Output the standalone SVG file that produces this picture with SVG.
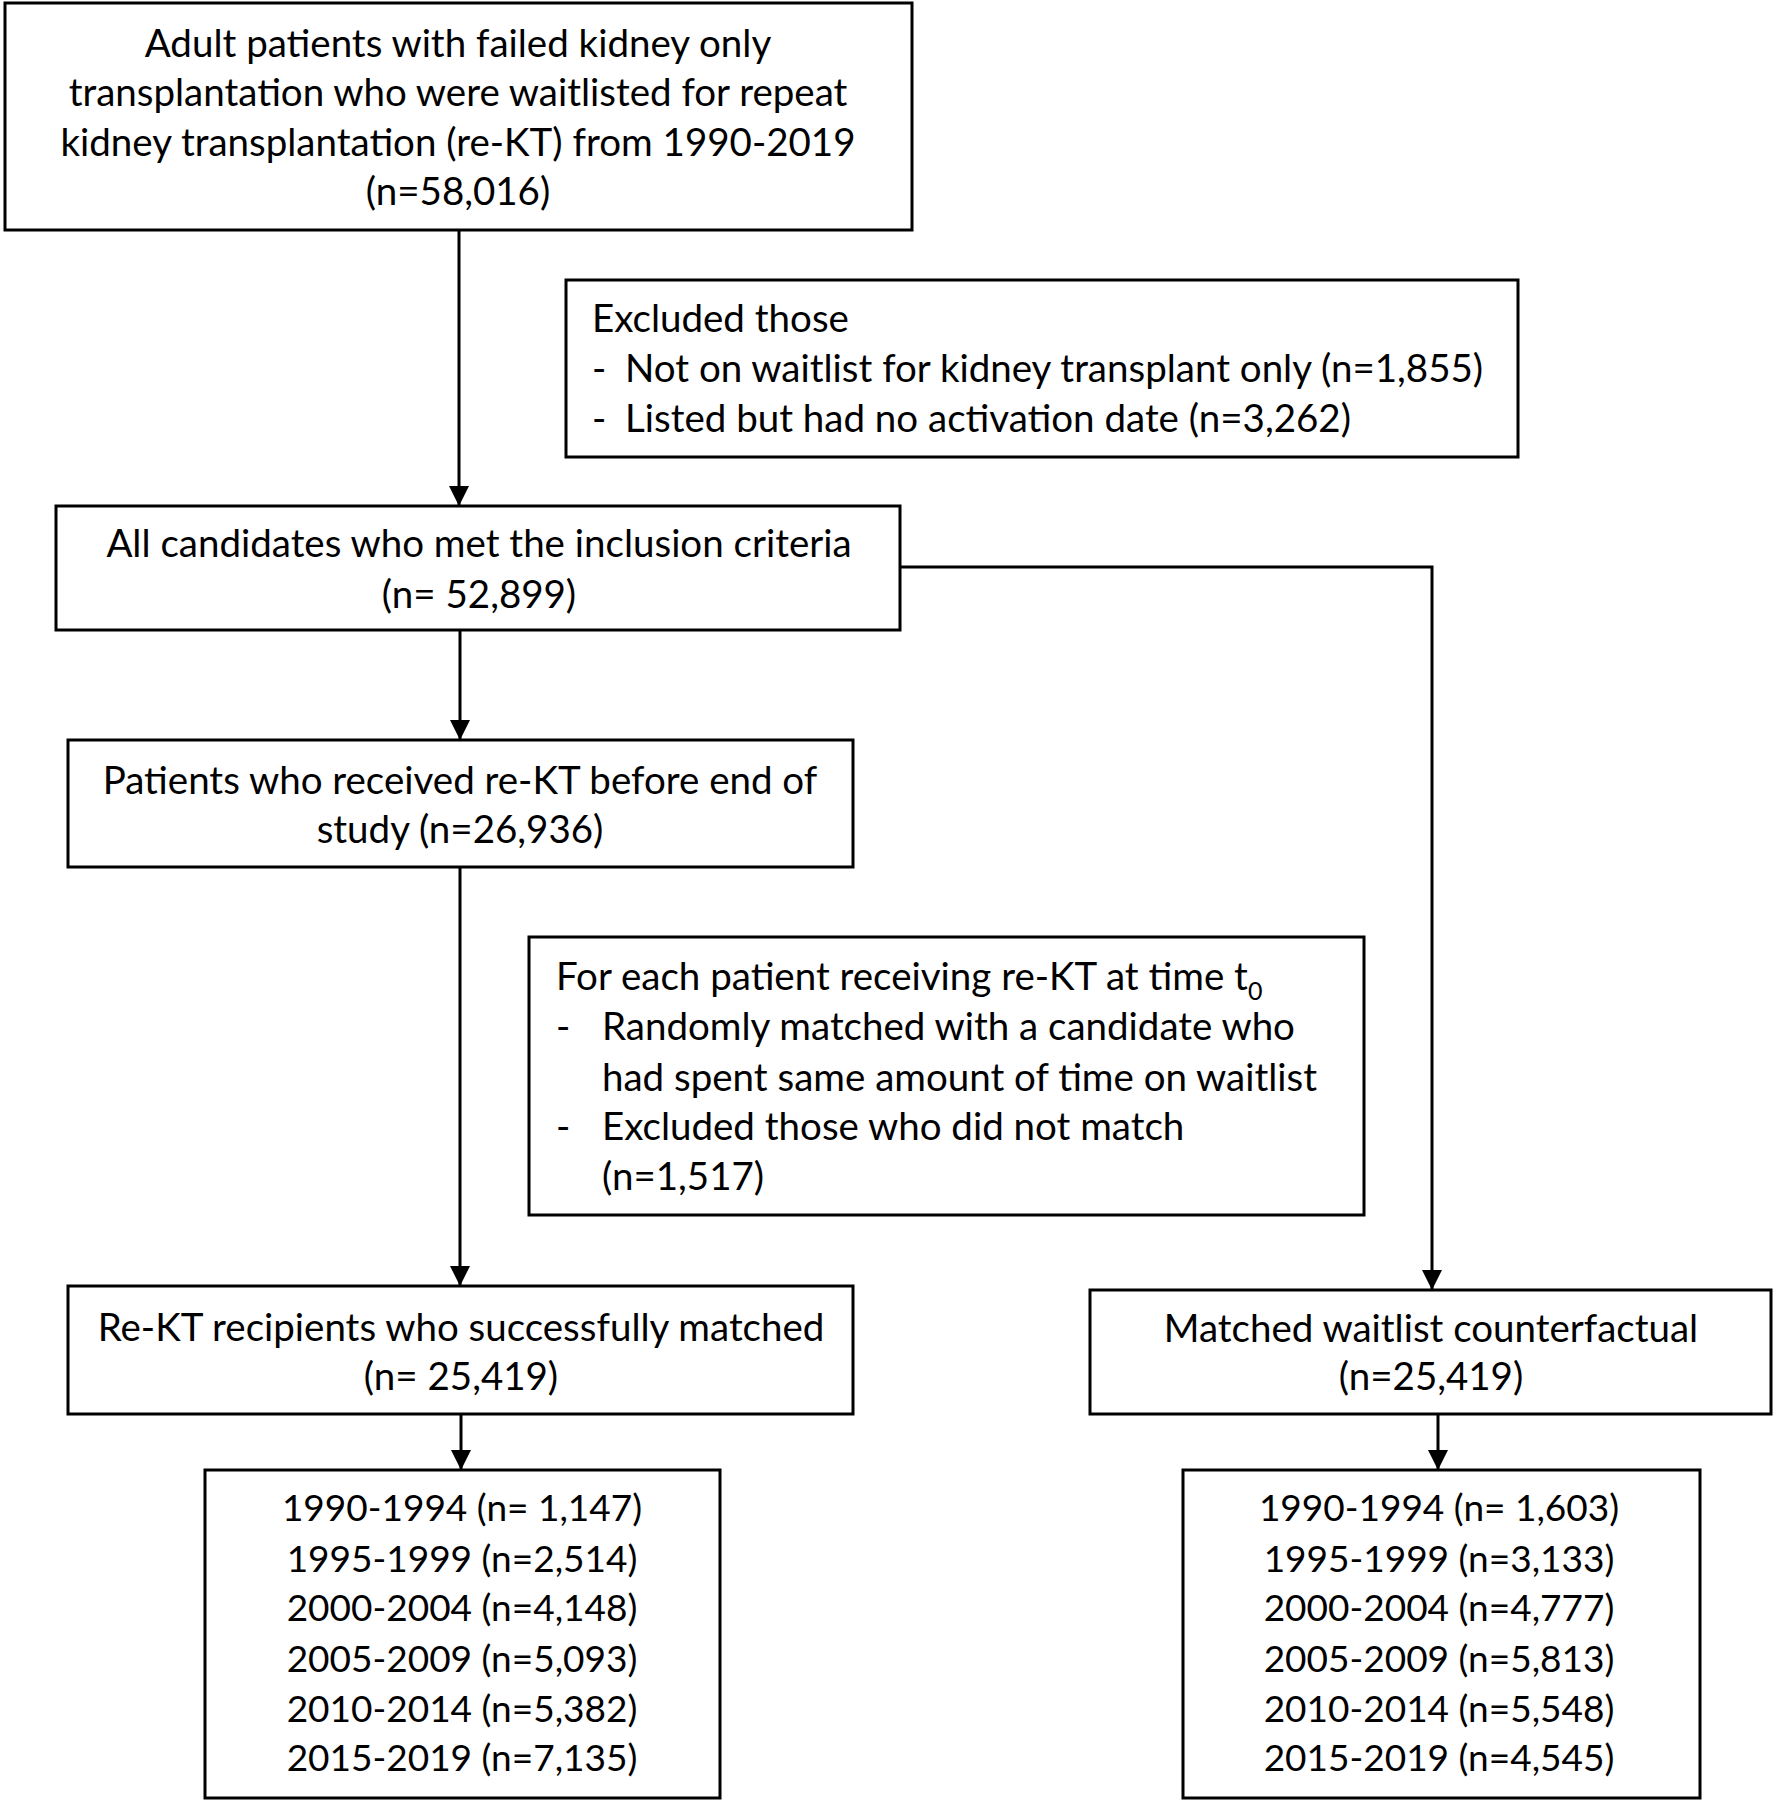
<svg xmlns="http://www.w3.org/2000/svg" width="1776" height="1804" viewBox="0 0 1776 1804">
<defs>
<marker id="ah" viewBox="0 0 20 20" refX="20" refY="10" markerWidth="20" markerHeight="20" markerUnits="userSpaceOnUse" orient="auto">
<path d="M0,0 L20,10 L0,20 Z" fill="#000"/>
</marker>
<style>
.box{fill:#fff;stroke:#000;stroke-width:3}
.t{font-family:Lato,"Open Sans",sans-serif;font-size:38.5px;fill:#000}
.y{font-size:37px}
.c{text-anchor:middle}
.ln{fill:none;stroke:#000;stroke-width:3}
</style>
</defs>
<rect width="1776" height="1804" fill="#fff"/>
<g id="connectors">
<line class="ln" x1="459" y1="230" x2="459" y2="506" marker-end="url(#ah)"/>
<line class="ln" x1="460" y1="630" x2="460" y2="740" marker-end="url(#ah)"/>
<line class="ln" x1="460" y1="867" x2="460" y2="1286" marker-end="url(#ah)"/>
<polyline class="ln" points="900,567 1432,567 1432,1290" marker-end="url(#ah)"/>
<line class="ln" x1="461" y1="1414" x2="461" y2="1470" marker-end="url(#ah)"/>
<line class="ln" x1="1438" y1="1414" x2="1438" y2="1470" marker-end="url(#ah)"/>
</g>
<g id="n1">
<rect class="box" x="5" y="3" width="907" height="227"/>
<text class="t c" x="458" y="57">Adult patients with failed kidney only</text>
<text class="t c" x="458" y="106">transplantation who were waitlisted for repeat</text>
<text class="t c" x="458" y="156">kidney transplantation (re-KT) from 1990-2019</text>
<text class="t c" x="458" y="205">(n=58,016)</text>
</g>
<g id="n2">
<rect class="box" x="566" y="280" width="952" height="177"/>
<text class="t" x="592" y="332">Excluded those</text>
<text class="t" x="592" y="382">-</text>
<text class="t" x="625" y="382">Not on waitlist for kidney transplant only (n=1,855)</text>
<text class="t" x="592" y="432">-</text>
<text class="t" x="625" y="432">Listed but had no activation date (n=3,262)</text>
</g>
<g id="n3">
<rect class="box" x="56" y="506" width="844" height="124"/>
<text class="t c" x="479" y="557">All candidates who met the inclusion criteria</text>
<text class="t c" x="479" y="608">(n= 52,899)</text>
</g>
<g id="n4">
<rect class="box" x="68" y="740" width="785" height="127"/>
<text class="t c" x="460" y="794">Patients who received re-KT before end of</text>
<text class="t c" x="460" y="843">study (n=26,936)</text>
</g>
<g id="n5">
<rect class="box" x="529" y="937" width="835" height="278"/>
<text class="t" x="556" y="990">For each patient receiving re-KT at time t<tspan font-size="25" dy="10">0</tspan></text>
<text class="t" x="556" y="1040">-</text>
<text class="t" x="602" y="1040">Randomly matched with a candidate who</text>
<text class="t" x="602" y="1091">had spent same amount of time on waitlist</text>
<text class="t" x="556" y="1140">-</text>
<text class="t" x="602" y="1140">Excluded those who did not match</text>
<text class="t" x="602" y="1190">(n=1,517)</text>
</g>
<g id="n6">
<rect class="box" x="68" y="1286" width="785" height="128"/>
<text class="t c" x="461" y="1341">Re-KT recipients who successfully matched</text>
<text class="t c" x="461" y="1390">(n= 25,419)</text>
</g>
<g id="n7">
<rect class="box" x="1090" y="1290" width="681" height="124"/>
<text class="t c" x="1431" y="1342">Matched waitlist counterfactual</text>
<text class="t c" x="1431" y="1390">(n=25,419)</text>
</g>
<g id="n8">
<rect class="box" x="205" y="1470" width="515" height="328"/>
<text class="t y c" x="462" y="1521">1990-1994 (n= 1,147)</text>
<text class="t y c" x="462" y="1572">1995-1999 (n=2,514)</text>
<text class="t y c" x="462" y="1621">2000-2004 (n=4,148)</text>
<text class="t y c" x="462" y="1672">2005-2009 (n=5,093)</text>
<text class="t y c" x="462" y="1722">2010-2014 (n=5,382)</text>
<text class="t y c" x="462" y="1771">2015-2019 (n=7,135)</text>
</g>
<g id="n9">
<rect class="box" x="1183" y="1470" width="517" height="328"/>
<text class="t y c" x="1439" y="1521">1990-1994 (n= 1,603)</text>
<text class="t y c" x="1439" y="1572">1995-1999 (n=3,133)</text>
<text class="t y c" x="1439" y="1621">2000-2004 (n=4,777)</text>
<text class="t y c" x="1439" y="1672">2005-2009 (n=5,813)</text>
<text class="t y c" x="1439" y="1722">2010-2014 (n=5,548)</text>
<text class="t y c" x="1439" y="1771">2015-2019 (n=4,545)</text>
</g>
</svg>
